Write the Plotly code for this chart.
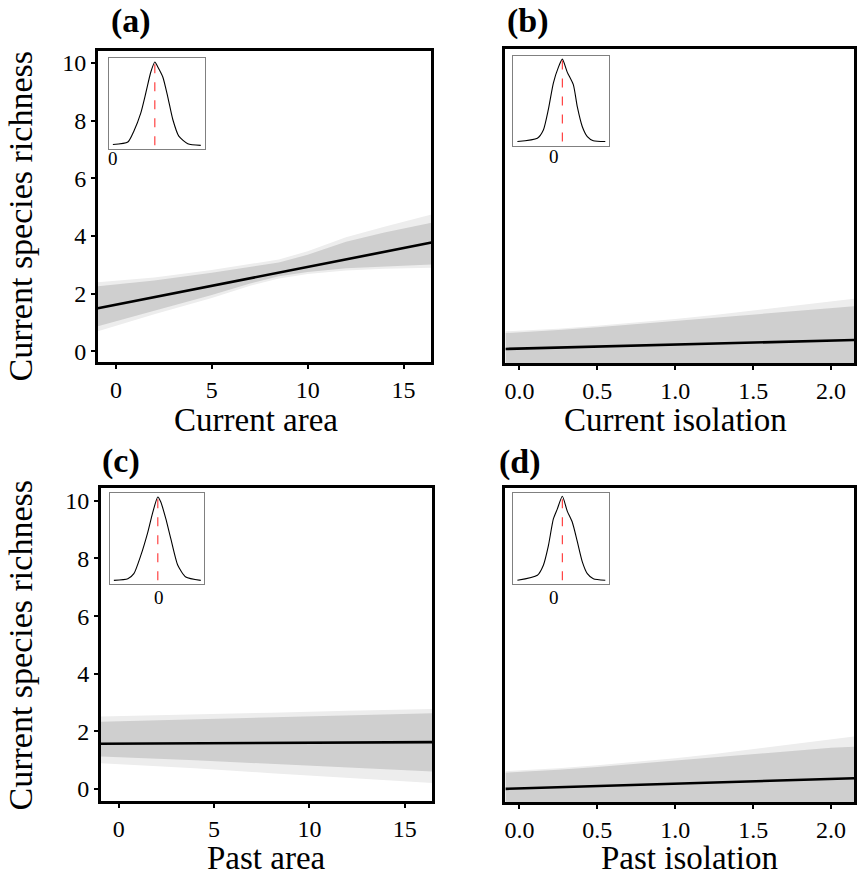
import plotly.graph_objects as go

W, H = 860, 881
FONT = "Liberation Serif"

# ---------------- data ----------------
panel_labels = ["(a)", "(b)", "(c)", "(d)"]
x_titles = ["Current area", "Current isolation", "Past area", "Past isolation"]
y_title = "Current species richness"

# fitted lines (start / end of x range)
line_a_x = [-0.94, 16.46]; line_a_y = [1.49, 3.77]
line_b_x = [-0.09, 2.147]; line_b_y = [0.07, 0.38]
line_c_x = [-0.94, 16.46]; line_c_y = [1.57, 1.63]
line_d_x = [-0.09, 2.147]; line_d_y = [0.04, 0.41]

# uncertainty bands (core + faint outer)
band_a_x = [-0.94, 2, 5, 7, 8.5, 10, 12, 14, 16.46]
band_a_core_up = [2.25, 2.45, 2.72, 2.92, 3.08, 3.35, 3.8, 4.12, 4.46]
band_a_core_lo = [0.87, 1.4, 1.95, 2.35, 2.6, 2.75, 2.88, 2.95, 3.01]
band_a_out_up = [2.39, 2.56, 2.82, 3.02, 3.18, 3.47, 3.95, 4.32, 4.74]
band_a_out_lo = [0.69, 1.28, 1.85, 2.27, 2.52, 2.68, 2.8, 2.86, 2.9]

band_b_x = [-0.09, 0.25, 0.5, 0.75, 1.0, 1.25, 1.5, 1.75, 2.0, 2.147]
band_b_core_up = [0.62, 0.72, 0.82, 0.93, 1.04, 1.15, 1.27, 1.39, 1.48, 1.54]
band_b_core_lo = [-1.0, -1.0, -1.0, -1.0, -1.0, -1.0, -1.0, -1.0, -1.0, -1.0]
band_b_out_up = [0.68, 0.77, 0.87, 0.98, 1.1, 1.24, 1.4, 1.57, 1.72, 1.8]
band_b_out_lo = [-1.0, -1.0, -1.0, -1.0, -1.0, -1.0, -1.0, -1.0, -1.0, -1.0]

band_c_x = [-0.94, 4, 8, 12, 16.46]
band_c_core_up = [2.34, 2.42, 2.5, 2.57, 2.63]
band_c_core_lo = [1.13, 1.0, 0.88, 0.75, 0.61]
band_c_out_up = [2.52, 2.58, 2.65, 2.72, 2.78]
band_c_out_lo = [0.9, 0.72, 0.55, 0.38, 0.21]

band_d_x = [-0.09, 0.25, 0.5, 0.75, 1.0, 1.25, 1.5, 1.75, 2.0, 2.147]
band_d_core_up = [0.6, 0.7, 0.8, 0.91, 1.02, 1.14, 1.26, 1.37, 1.46, 1.5]
band_d_core_lo = [-1.0, -1.0, -1.0, -1.0, -1.0, -1.0, -1.0, -1.0, -1.0, -1.0]
band_d_out_up = [0.65, 0.75, 0.86, 0.97, 1.1, 1.25, 1.42, 1.6, 1.77, 1.85]
band_d_out_lo = [-1.0, -1.0, -1.0, -1.0, -1.0, -1.0, -1.0, -1.0, -1.0, -1.0]

# posterior density insets
dens_a_x = [0.0, 1.5, 2.1, 2.8, 3.3, 3.8, 4.2, 4.5, 5.0, 5.5, 6.0, 6.6, 7.5, 8.8]
dens_a_y = [0.01, 0.04, 0.17, 0.39, 0.63, 0.88, 1.0, 0.94, 0.82, 0.58, 0.31, 0.11, 0.02, 0.0]
mean_a = 4.2

dens_b_x = [-3.7, -1.7, -1.1, -0.6, -0.1, 0.4, 0.8, 1.3, 1.9, 2.3, 2.8, 3.3, 3.9, 5.1]
dens_b_y = [0.0, 0.04, 0.14, 0.39, 0.71, 0.9, 1.0, 0.84, 0.69, 0.42, 0.18, 0.06, 0.01, 0.0]
mean_b = 0.8

dens_c_x = [-4.5, -3.1, -2.5, -1.8, -1.1, -0.6, -0.1, 0.2, 0.7, 1.2, 1.9, 2.7, 4.2]
dens_c_y = [0.0, 0.02, 0.08, 0.3, 0.58, 0.82, 1.0, 0.94, 0.74, 0.5, 0.18, 0.04, 0.0]
mean_c = -0.1

dens_d_x = [-3.7, -1.7, -1.1, -0.6, -0.1, 0.3, 0.8, 1.3, 1.8, 2.3, 2.8, 3.3, 3.9, 5.1]
dens_d_y = [0.0, 0.06, 0.18, 0.41, 0.73, 0.85, 1.0, 0.82, 0.69, 0.46, 0.22, 0.08, 0.02, 0.0]
mean_d = 0.8

# axis ticks
area_ticks = [0, 5, 10, 15]
iso_ticks = [0.0, 0.5, 1.0, 1.5, 2.0]
rich_ticks = [0, 2, 4, 6, 8, 10]
inset_tick = 0

# ---------------- layout geometry (pixels) ----------------
def xd(a, b):
    return [a / W, b / W]

def yd(top, bottom):
    return [1 - bottom / H, 1 - top / H]

main_boxes = [  # (left, right, top, bottom)
    (97, 431, 51, 363),
    (505, 854, 49, 364),
    (100, 432, 489, 803),
    (505, 854, 489, 804),
]
inset_boxes = [
    (108, 204, 58, 149),
    (513, 609, 56, 146),
    (109, 203, 494, 585),
    (513, 609, 494, 585),
]
inset_label_y = [159, 157, 599, 599]
x_ranges = [[-0.94, 16.46], [-0.09, 2.147], [-0.94, 16.46], [-0.09, 2.147]]
y_ranges = [[-0.38, 10.42], [-0.42, 10.42], [-0.42, 10.45], [-0.42, 10.45]]
inset_x_ranges = [[-0.4, 9.2], [-4.1, 5.5], [-4.9, 4.5], [-4.1, 5.5]]
inset_y_ranges = [[-0.04, 1.05], [-0.05, 1.04], [-0.04, 1.05], [-0.04, 1.04]]

fig = go.Figure()

lines = [(line_a_x, line_a_y), (line_b_x, line_b_y), (line_c_x, line_c_y), (line_d_x, line_d_y)]
bands = [
    (band_a_x, band_a_core_up, band_a_core_lo, band_a_out_up, band_a_out_lo),
    (band_b_x, band_b_core_up, band_b_core_lo, band_b_out_up, band_b_out_lo),
    (band_c_x, band_c_core_up, band_c_core_lo, band_c_out_up, band_c_out_lo),
    (band_d_x, band_d_core_up, band_d_core_lo, band_d_out_up, band_d_out_lo),
]
dens = [(dens_a_x, dens_a_y, mean_a), (dens_b_x, dens_b_y, mean_b),
        (dens_c_x, dens_c_y, mean_c), (dens_d_x, dens_d_y, mean_d)]

for i in range(4):
    n = i + 1
    xa = "x" if n == 1 else f"x{n}"
    ya = "y" if n == 1 else f"y{n}"
    bx, cu, cl, ou, ol = bands[i]
    fig.add_trace(go.Scatter(x=bx + bx[::-1], y=ou + ol[::-1], fill="toself",
                             fillcolor="#ededed", line=dict(width=0),
                             mode="lines", xaxis=xa, yaxis=ya, showlegend=False, hoverinfo="skip"))
    fig.add_trace(go.Scatter(x=bx + bx[::-1], y=cu + cl[::-1], fill="toself",
                             fillcolor="#cfcfcf", line=dict(width=0),
                             mode="lines", xaxis=xa, yaxis=ya, showlegend=False, hoverinfo="skip"))
    lx, ly = lines[i]
    fig.add_trace(go.Scatter(x=lx, y=ly, mode="lines", line=dict(color="black", width=2.6),
                             xaxis=xa, yaxis=ya, showlegend=False))
    # insets
    m = i + 5
    dx, dy, mu = dens[i]
    fig.add_trace(go.Scatter(x=dx, y=dy, mode="lines",
                             line=dict(color="black", width=1.1, shape="spline", smoothing=0.6),
                             xaxis=f"x{m}", yaxis=f"y{m}", showlegend=False))
    fig.add_trace(go.Scatter(x=[mu, mu], y=[0, 1.0], mode="lines",
                             line=dict(color="#ff3030", width=1.1, dash="dash"),
                             xaxis=f"x{m}", yaxis=f"y{m}", showlegend=False))

layout = dict(width=W, height=H, margin=dict(l=0, r=0, t=0, b=0),
              paper_bgcolor="white", plot_bgcolor="white", showlegend=False,
              font=dict(family=FONT, color="black"))

TICKSIZE = 24
for i in range(4):
    n = i + 1
    l, r, t, b = main_boxes[i]
    isarea = i in (0, 2)
    xkey = "xaxis" if n == 1 else f"xaxis{n}"
    ykey = "yaxis" if n == 1 else f"yaxis{n}"
    layout[xkey] = dict(domain=xd(l, r), anchor="y" if n == 1 else f"y{n}",
                        range=x_ranges[i], showgrid=False, zeroline=False,
                        showline=True, linecolor="black", linewidth=2.5, mirror=True,
                        ticks="outside", ticklen=4, tickwidth=2, tickcolor="black",
                        tickvals=area_ticks if isarea else iso_ticks,
                        ticktext=[str(v) for v in area_ticks] if isarea else [f"{v:.1f}" for v in iso_ticks],
                        tickfont=dict(family=FONT, size=TICKSIZE, color="black"))
    layout[ykey] = dict(domain=yd(t, b), anchor="x" if n == 1 else f"x{n}",
                        range=y_ranges[i], showgrid=False, zeroline=False,
                        showline=True, linecolor="black", linewidth=2.5, mirror=True,
                        ticks="outside" if isarea else "", ticklen=4, tickwidth=2, tickcolor="black",
                        tickvals=rich_ticks, showticklabels=isarea,
                        tickfont=dict(family=FONT, size=TICKSIZE, color="black"))
    m = i + 5
    il, ir, it, ib = inset_boxes[i]
    layout[f"xaxis{m}"] = dict(domain=xd(il, ir), anchor=f"y{m}", range=inset_x_ranges[i],
                               showgrid=False, zeroline=False, showline=True, linecolor="#808080",
                               linewidth=1, mirror=True, ticks="", showticklabels=False)
    layout[f"yaxis{m}"] = dict(domain=yd(it, ib), anchor=f"x{m}", range=inset_y_ranges[i],
                               showgrid=False, zeroline=False, showline=True, linecolor="#808080",
                               linewidth=1, mirror=True, ticks="", showticklabels=False)

fig.update_layout(**layout)

ann = []
label_pos = [(130, 21), (528, 21), (120, 462), (520, 463)]
for (px, py), txt in zip(label_pos, panel_labels):
    ann.append(dict(x=px / W, y=1 - py / H, xref="paper", yref="paper", text=f"<b>{txt}</b>",
                    showarrow=False, xanchor="center", yanchor="middle",
                    font=dict(family=FONT, size=34, color="black")))
xt_pos = [(255, 421), (675, 421), (266, 860), (689, 860)]
for (px, py), txt in zip(xt_pos, x_titles):
    ann.append(dict(x=px / W, y=1 - py / H, xref="paper", yref="paper", text=txt,
                    showarrow=False, xanchor="center", yanchor="middle",
                    font=dict(family=FONT, size=33, color="black")))
for py in (217, 647):
    ann.append(dict(x=20 / W, y=1 - py / H, xref="paper", yref="paper", text=y_title,
                    showarrow=False, xanchor="center", yanchor="middle", textangle=-90,
                    font=dict(family=FONT, size=34, color="black")))
for i in range(4):
    m = i + 5
    ann.append(dict(x=inset_tick, y=1 - inset_label_y[i] / H, xref=f"x{m}", yref="paper",
                    text=str(inset_tick), showarrow=False, xanchor="center", yanchor="middle",
                    font=dict(family=FONT, size=19, color="black")))
fig.update_layout(annotations=ann)

fig.write_html("out.html")
